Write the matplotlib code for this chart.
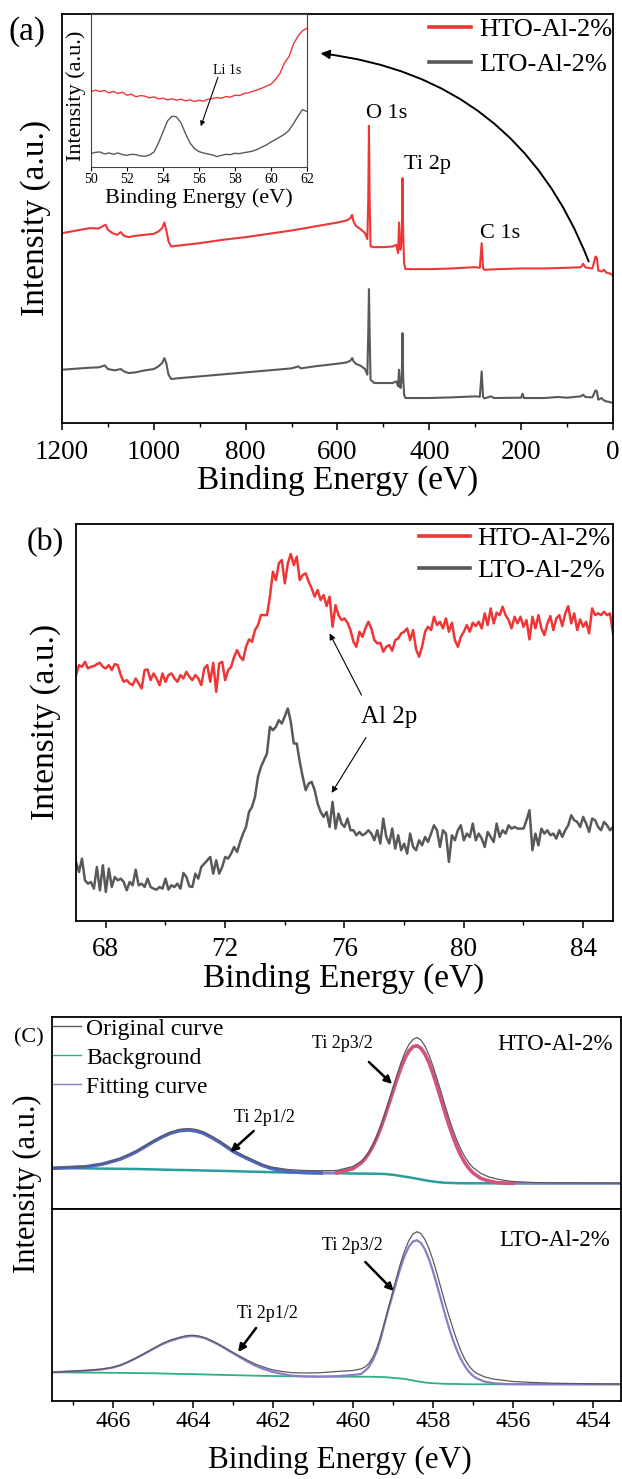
import numpy as np
import matplotlib
matplotlib.use("Agg")
import matplotlib.pyplot as plt
from matplotlib.ticker import MultipleLocator
from matplotlib.lines import Line2D

plt.rcParams['font.family'] = ['Liberation Serif', 'DejaVu Serif']

RED = '#ee3636'
GRAY = '#59595b'

# ---------------- (a) survey spectra ----------------
sv_hto_e = [1200, 1180, 1160, 1140, 1120, 1110, 1105, 1100, 1090, 1080, 1072, 1065, 1055, 1040, 1020,
            1000, 990, 982, 977, 973, 968, 962, 950, 900, 850, 800, 750, 700, 650, 600,
            580, 572, 568, 565, 560, 550, 540, 535, 533, 531.5, 530, 528, 520, 500, 480,
            472, 468, 466, 463, 460, 458.5, 457, 455, 452, 420, 400, 350, 300, 290, 286,
            283, 280, 250, 200, 150, 100, 70, 65, 60, 45, 38, 35, 32, 25, 20, 15, 10, 5, 0]
sv_hto = [570, 575, 580, 585, 584, 592, 595, 580, 570, 565, 573, 562, 558, 562, 565,
          568, 575, 585, 602, 580, 545, 530, 532, 540, 550, 558, 568, 578, 590, 602,
          608, 615, 625, 605, 592, 582, 570, 552, 670, 892, 670, 530, 528, 528, 530,
          535, 510, 602, 520, 550, 735, 570, 480, 462, 462, 462, 464, 468, 466, 540,
          465, 460, 462, 464, 464, 466, 468, 478, 467, 464, 500, 495, 458, 455, 460, 452, 450, 448, 442]

sv_lto_e = [1200, 1180, 1160, 1140, 1120, 1107, 1100, 1085, 1072, 1065, 1055, 1040, 1020, 1000, 990,
            982, 977, 973, 968, 962, 950, 900, 850, 800, 750, 700, 685, 680, 650, 600,
            580, 572, 568, 565, 560, 550, 540, 535, 533, 531.5, 530, 528, 520, 500, 480,
            472, 468, 466, 463, 460, 458.5, 457, 455, 452, 420, 400, 350, 300, 290, 286,
            283, 280, 265, 260, 200, 197, 194, 150, 120, 100, 70, 65, 60, 45, 38,
            35, 32, 25, 20, 15, 10, 5, 0]
sv_lto = [160, 162, 164, 166, 167, 173, 162, 158, 162, 155, 150, 152, 158, 162, 170,
          180, 195, 180, 145, 132, 134, 140, 146, 152, 158, 164, 170, 164, 170, 178,
          182, 187, 195, 185, 178, 172, 162, 145, 270, 402, 270, 130, 120, 120, 120,
          125, 110, 160, 105, 130, 270, 140, 85, 75, 75, 75, 77, 80, 79, 155,
          78, 74, 80, 75, 76, 88, 75, 75, 78, 76, 80, 85, 78, 77, 98,
          95, 70, 75, 68, 65, 64, 62, 60]

# inset: Li 1s region, 50-62 eV in 0.25 eV steps
li_e = np.linspace(50, 62, 49)
li_hto = [225, 230, 226, 229, 222, 226, 220, 224, 215, 218, 210, 214, 212, 207, 210, 204,
          206, 201, 204, 200, 203, 198, 201, 196, 200, 197, 203, 205, 208, 206, 211, 209,
          215, 214, 220, 222, 227, 231, 236, 242, 248, 262, 280, 312, 330, 368, 392, 408, 415]
li_lto = [40, 44, 45, 39, 42, 38, 42, 37, 35, 38, 37, 33, 32, 36, 45, 72,
          105, 138, 152, 150, 132, 100, 72, 55, 46, 42, 39, 36, 31, 35, 38, 37,
          41, 40, 43, 45, 48, 53, 60, 66, 75, 82, 90, 98, 110, 130, 152, 172, 166]

# ---------------- (b) Al 2p, 67-85 eV in 0.1 eV steps ----------------
al_e = np.linspace(67, 85, 181)
al_hto = [737, 767, 762, 777, 757, 762, 764, 770, 774, 762,
          757, 767, 752, 770, 767, 737, 717, 722, 712, 707,
          727, 712, 697, 752, 754, 722, 742, 727, 707, 742,
          717, 737, 742, 727, 717, 737, 727, 747, 732, 722,
          737, 727, 707, 757, 767, 717, 774, 687, 772, 777,
          722, 752, 762, 792, 812, 792, 782, 822, 844, 837,
          872, 887, 917, 917, 917, 972, 1047, 1022, 1072, 1082,
          1012, 1072, 1100, 1067, 1092, 1022, 1037, 1042, 1017, 997,
          972, 992, 962, 977, 944, 972, 882, 947, 917, 902,
          907, 894, 872, 837, 822, 867, 852, 877, 897, 877,
          842, 832, 834, 807, 822, 827, 810, 842, 847, 862,
          867, 877, 842, 872, 814, 792, 822, 867, 882, 872,
          912, 887, 897, 877, 907, 867, 894, 842, 822, 852,
          867, 887, 867, 894, 884, 897, 877, 922, 887, 937,
          892, 924, 917, 942, 917, 902, 877, 912, 892, 912,
          882, 902, 844, 912, 877, 917, 877, 857, 892, 914,
          872, 907, 917, 884, 922, 944, 892, 922, 872, 904,
          882, 897, 862, 937, 917, 922, 917, 927, 917, 922,
          862]
al_lto = [177, 147, 187, 122, 112, 117, 97, 162, 92, 167,
          87, 157, 102, 132, 122, 127, 117, 92, 117, 107,
          154, 107, 112, 102, 127, 102, 97, 94, 102, 97,
          127, 94, 107, 102, 112, 97, 144, 132, 104, 102,
          142, 127, 162, 172, 182, 192, 142, 182, 142, 162,
          192, 187, 202, 222, 207, 237, 262, 282, 327, 342,
          372, 432, 462, 482, 502, 582, 572, 582, 602, 592,
          614, 637, 597, 532, 532, 477, 432, 392, 412, 417,
          392, 352, 327, 312, 327, 282, 357, 277, 322, 292,
          282, 307, 272, 272, 257, 267, 257, 262, 272, 262,
          242, 272, 232, 307, 252, 232, 277, 217, 257, 212,
          232, 202, 262, 222, 212, 242, 227, 252, 237, 262,
          287, 272, 222, 272, 262, 177, 257, 242, 272, 287,
          242, 262, 252, 292, 242, 262, 247, 222, 267, 252,
          237, 292, 252, 272, 262, 287, 277, 282, 277, 277,
          277, 302, 332, 212, 262, 227, 277, 262, 272, 257,
          262, 247, 272, 252, 272, 287, 317, 302, 297, 282,
          312, 292, 267, 307, 302, 282, 272, 297, 287, 272,
          282]

# ---------------- (c) Ti 2p fitting ----------------
hto_e = [467.52, 466.67, 466.25, 465.83, 465.62, 465.41, 465.2, 464.99, 464.78, 464.57,
         464.34, 464.11, 463.92, 463.73, 463.52, 463.31, 463.15, 462.98, 462.72, 462.47,
         462.26, 462.05, 461.63, 461.2, 460.79, 460.4, 460.0, 459.8, 459.7, 459.6,
         459.5, 459.4, 459.3, 459.2, 459.1, 459.0, 458.9, 458.8, 458.7, 458.6,
         458.5, 458.4, 458.3, 458.2, 458.1, 458.0, 457.9, 457.8, 457.7, 457.6,
         457.5, 457.4, 457.3, 457.2, 457.1, 457.0, 456.8, 456.6, 456.4, 456.2,
         456.0, 455.5, 455.0, 454.0, 453.3]
hto_orig = [40, 41.5, 44, 49.5, 53, 57, 62, 67, 71.5, 75.5,
            78.5, 79.5, 78.5, 76, 71.5, 66.5, 62, 57.5, 52, 47.5,
            43.5, 41, 38.5, 37.5, 37.3, 37.5, 41.5, 46.5, 50.5, 56,
            63, 72, 82.5, 94.5, 107, 120, 133, 145, 155.5, 163.5,
            168.5, 170.5, 168, 162, 153, 142, 129.5, 116.5, 103, 90,
            78, 67.5, 58.5, 51, 45, 40.5, 34.5, 31, 29, 27.5,
            26.5, 25.5, 25.2, 25, 24.8]
hto_fit = [39.7, 41.3, 44, 48.7, 52.3, 56.3, 61.3, 66.3, 70.8, 74.7,
           77.3, 78, 77, 74.7, 70.3, 65.3, 61, 56.3, 51, 46.3,
           42.6, 39.7, 36.3, 35.3, 35, 35.2, 39.3, 44.8, 49.1, 54.8,
           61.8, 70.4, 80.5, 91.9, 104, 116.5, 128.6, 140, 149.7, 156.9,
           161.3, 162.3, 159.8, 154, 145.5, 134.5, 122, 108.9, 95.6, 83,
           71.4, 61, 52.3, 45.2, 39.5, 35.1, 29.5, 27, 25.3, 24.9,
           24.7, 24.7, 24.7, 24.7, 24.7]
hto_bg = [40, 39.6, 39.4, 39.2, 39.1, 39, 38.8, 38.6, 38.4, 38.2,
          38, 37.9, 37.7, 37.5, 37.3, 37.1, 37, 36.8, 36.5, 36.3,
          36.1, 35.8, 35.5, 35.2, 35, 34.8, 34.5, 34.4, 34.4, 34.3,
          34.3, 34.2, 34.1, 34, 33.6, 33.2, 32.6, 32, 31.3, 30.7,
          30, 29.3, 28.5, 27.8, 27.1, 26.5, 26, 25.6, 25.2, 25.1,
          25, 24.8, 24.8, 24.7, 24.7, 24.7, 24.7, 24.7, 24.7, 24.7,
          24.7, 24.7, 24.7, 24.7, 24.7]
hto_p12_e = [467.52, 466.67, 466.25, 465.83, 465.62, 465.41, 465.2, 464.99, 464.78, 464.57,
             464.34, 464.11, 463.92, 463.73, 463.52, 463.31, 463.15, 462.98, 462.72, 462.47,
             462.26, 462.05, 461.63, 461.2, 460.79]
hto_p12 = [39.7, 41.3, 44, 48.7, 52.3, 56.3, 61.3, 66.3, 70.8, 74.7,
           77.3, 78, 77, 74.7, 70.3, 65.3, 61, 56.3, 51, 46.3,
           42.6, 39.7, 36.3, 35.3, 35]
hto_p32_e = [460.4, 460.0, 459.8, 459.7, 459.6, 459.5, 459.4, 459.3, 459.2, 459.1,
             459.0, 458.9, 458.8, 458.7, 458.6, 458.5, 458.4, 458.3, 458.2, 458.1,
             458.0, 457.9, 457.8, 457.7, 457.6, 457.5, 457.4, 457.3, 457.2, 457.1,
             457.0, 456.8, 456.6, 456.4, 456.2, 456.0]
hto_p32 = [35.2, 39.3, 44.8, 49.1, 54.8, 61.8, 70.4, 80.5, 91.9, 104,
           116.5, 128.6, 140, 149.7, 156.9, 161.3, 162.3, 159.8, 154, 145.5,
           134.5, 122, 108.9, 95.6, 83, 71.4, 61, 52.3, 45.2, 39.5,
           35.1, 29.5, 27, 25.3, 24.9, 24.7]

lto_e = [467.52, 466.69, 466.3, 466.02, 465.8, 465.6, 465.4, 465.19, 464.98, 464.77,
         464.56, 464.35, 464.18, 464.02, 463.85, 463.69, 463.48, 463.27, 463.06, 462.85,
         462.64, 462.44, 462.23, 462.02, 461.77, 461.52, 461.2, 460.85, 460.4, 460.0,
         459.8, 459.7, 459.6, 459.5, 459.4, 459.3, 459.2, 459.1, 459.0, 458.9,
         458.8, 458.7, 458.6, 458.5, 458.4, 458.3, 458.2, 458.1, 458.0, 457.9,
         457.8, 457.7, 457.6, 457.5, 457.4, 457.3, 457.2, 457.1, 457.0, 456.9,
         456.7, 456.5, 456.2, 456.0, 455.5, 455.0, 454.0, 453.3]
lto_orig = [28.7, 30.5, 31.8, 33.5, 36, 39.5, 43.5, 48, 52.8, 57.3,
            61, 63.5, 65.2, 65.8, 65, 63.2, 59.5, 55, 50, 45.3,
            40.8, 37, 33.8, 31.3, 29.5, 28.3, 28, 28.2, 29.5, 30.5,
            32, 34, 37.5, 44, 53, 66, 80, 95, 110, 125,
            139, 151, 160.5, 167, 169.3, 167.5, 161.5, 152.5, 141, 127.5,
            113, 98.5, 85, 72.5, 60.5, 50, 41.5, 35, 30.5, 27.5,
            24, 22, 20.5, 19.5, 18.5, 17.8, 17.2, 17]
lto_fit = [28.7, 30.3, 31.5, 33.3, 35.8, 39.3, 43.2, 47.7, 52.2, 56.7,
           60.2, 62.7, 64.3, 65, 64.3, 62.7, 58.8, 54.3, 49.3, 44.3,
           39.5, 35.3, 32, 29.3, 27, 25.3, 24.6, 24.4, 24.8, 26,
           27, 30, 34, 41, 50, 63, 78.5, 93.2, 107.2, 121.2,
           134.6, 145.9, 154.4, 159.5, 160.8, 158.1, 151.6, 142, 129.9, 116,
           101.4, 86.9, 73.4, 61, 50.6, 41.8, 34.7, 29.2, 25.2, 22.5,
           19.3, 17.8, 17, 16.8, 16.7, 16.7, 16.7, 16.7]
lto_bg = [28.7, 28.4, 28.3, 28.2, 28.1, 28, 27.9, 27.8, 27.7, 27.5,
          27.3, 27.1, 27, 26.9, 26.7, 26.5, 26.3, 26.1, 25.9, 25.7,
          25.5, 25.3, 25.1, 25, 24.8, 24.7, 24.5, 24.4, 24.3, 24.3,
          24.3, 24.3, 24.3, 24.2, 24.1, 24, 23.8, 23.5, 23.2, 22.8,
          22.5, 22, 21.3, 20.5, 19.8, 19.1, 18.5, 18.1, 17.8, 17.6,
          17.4, 17.2, 17.1, 17, 17, 16.9, 16.8, 16.8, 16.7, 16.7,
          16.7, 16.7, 16.7, 16.7, 16.7, 16.7, 16.7, 16.7]

W, H = 622, 1479


def box(l, t, r, b):
    return [l / W, 1 - b / H, (r - l) / W, (b - t) / H]


def fx(x):
    return x / W


def fy(y):
    return 1 - y / H


def style_axis(ax, size, pad, lw=1.3):
    for s in ax.spines.values():
        s.set_linewidth(lw)
    ax.set_yticks([])
    ax.tick_params(axis='x', which='major', direction='out', length=5, width=1.1,
                   labelsize=size, pad=pad)
    ax.tick_params(axis='x', which='minor', direction='out', length=3, width=1.0)


fig = plt.figure(figsize=(W / 100, H / 100), dpi=100)

# ---- panel (a)
ax_a = fig.add_axes(box(62, 14, 613, 423))
ax_a.plot(sv_hto_e, sv_hto, color=RED, lw=1.5, label='HTO-Al-2%')
ax_a.plot(sv_lto_e, sv_lto, color=GRAY, lw=1.5, label='LTO-Al-2%')
ax_a.set_xlim(1200, 0)
ax_a.set_ylim(0, 1228)
ax_a.xaxis.set_major_locator(MultipleLocator(200))
ax_a.xaxis.set_minor_locator(MultipleLocator(100))
style_axis(ax_a, 19.5, 7.5)
leg = ax_a.legend(loc='upper right', bbox_to_anchor=(fx(612), fy(18)), bbox_transform=fig.transFigure,
                  frameon=False, fontsize=19, borderpad=0, borderaxespad=0,
                  handlelength=1.6, handletextpad=0.3, labelspacing=0.42)
for ln in leg.get_lines():
    ln.set_linewidth(2.6)
ax_a.text(538, 930, 'O 1s', fontsize=16, ha='left', va='center')
ax_a.text(456, 775, 'Ti 2p', fontsize=16, ha='left', va='center')
ax_a.text(289, 570, 'C 1s', fontsize=16, ha='left', va='center')
ax_a.annotate('', xy=(637, 1110), xytext=(53, 485),
              arrowprops=dict(arrowstyle='-|>', connectionstyle='arc3,rad=0.3', lw=1.4,
                              color='black', mutation_scale=13, shrinkA=0, shrinkB=0))

ax_in = fig.add_axes(box(91, 14, 307, 167))
ax_in.plot(li_e, li_hto, color=RED, lw=1.0)
ax_in.plot(li_e, li_lto, color=GRAY, lw=1.0)
ax_in.set_xlim(50, 62)
ax_in.set_ylim(0, 458)
ax_in.set_xticks(np.arange(50, 63, 2))
ax_in.set_yticks([])
for s in ax_in.spines.values():
    s.set_linewidth(0.8)
    s.set_color('#444444')
ax_in.tick_params(axis='x', direction='out', length=3, width=0.8, labelsize=10, pad=1.5)
ax_in.text(56.75, 290, 'Li 1s', fontsize=10, ha='left', va='center')
ax_in.annotate('', xy=(56.1, 122), xytext=(57.05, 268),
               arrowprops=dict(arrowstyle='-|>', lw=0.8, color='black', mutation_scale=7,
                               shrinkA=0, shrinkB=0))
fig.text(fx(199), fy(198), 'Binding Energy (eV)', fontsize=16, ha='center', va='center')
fig.text(fx(76), fy(96), 'Intensity (a.u.)', fontsize=16, ha='center', va='center', rotation=90)

fig.text(fx(27), fy(32), '(a)', fontsize=24, ha='center', va='center')
fig.text(fx(338), fy(480), 'Binding Energy (eV)', fontsize=24, ha='center', va='center')
fig.text(fx(36), fy(218), 'Intensity (a.u.)', fontsize=24, ha='center', va='center', rotation=90)

# ---- panel (b)
ax_b = fig.add_axes(box(76, 524, 613, 921))
ax_b.plot(al_e, al_hto, color=RED, lw=1.8, label='HTO-Al-2%')
ax_b.plot(al_e, al_lto, color=GRAY, lw=1.8, label='LTO-Al-2%')
ax_b.set_xlim(67, 85)
ax_b.set_ylim(0, 1190)
ax_b.xaxis.set_major_locator(MultipleLocator(4))
ax_b.xaxis.set_minor_locator(MultipleLocator(2))
ax_b.set_xticks([68, 72, 76, 80, 84])
style_axis(ax_b, 19.5, 6.5)
leg = ax_b.legend(loc='upper right', bbox_to_anchor=(fx(610), fy(527)), bbox_transform=fig.transFigure,
                  frameon=False, fontsize=19, borderpad=0, borderaxespad=0,
                  handlelength=1.95, handletextpad=0.25, labelspacing=0.32)
for ln in leg.get_lines():
    ln.set_linewidth(2.6)
ax_b.text(76.55, 612, 'Al 2p', fontsize=18, ha='left', va='center')
for start, end in [((76.57, 677), (75.5, 862)), ((76.72, 550), (75.57, 384))]:
    ax_b.annotate('', xy=end, xytext=start,
                  arrowprops=dict(arrowstyle='-|>', lw=0.8, color='black', mutation_scale=9,
                                  shrinkA=0, shrinkB=0))
fig.text(fx(45), fy(543), '(b)', fontsize=23, ha='center', va='center')
fig.text(fx(344), fy(978), 'Binding Energy (eV)', fontsize=24, ha='center', va='center')
fig.text(fx(46), fy(722), 'Intensity (a.u.)', fontsize=24, ha='center', va='center', rotation=90)

# ---- panel (c)
C_ORIG = '#5a5a5a'
C_BG_TOP = '#2a9d9c'
C_BG = '#2fb07f'
C_FIT = '#9079c8'
C_P12 = '#5068c4'
C_P32 = '#d5537a'

ax_c1 = fig.add_axes(box(52, 1017, 621, 1209))
ax_c1.plot(hto_e, hto_bg, color=C_BG_TOP, lw=1.8)
ax_c1.plot(hto_e, hto_fit, color=C_FIT, lw=1.8)
ax_c1.plot(hto_p12_e, hto_p12, color=C_P12, lw=2.6)
ax_c1.plot(hto_p32_e, hto_p32, color=C_P32, lw=2.6)
ax_c1.plot(hto_e, hto_orig, color=C_ORIG, lw=0.9)
ax_c1.set_xlim(467.52, 453.3)
ax_c1.set_ylim(-1, 191)
for s in ax_c1.spines.values():
    s.set_linewidth(1.3)
ax_c1.set_xticks([])
ax_c1.set_yticks([])

ax_c2 = fig.add_axes(box(52, 1209, 621, 1401))
ax_c2.plot(lto_e, lto_bg, color=C_BG, lw=1.3)
ax_c2.plot(lto_e, lto_fit, color=C_FIT, lw=1.6)
ax_c2.plot(lto_e, lto_orig, color=C_ORIG, lw=0.9)
ax_c2.set_xlim(467.52, 453.3)
ax_c2.set_ylim(0, 192)
ax_c2.xaxis.set_major_locator(MultipleLocator(2))
ax_c2.xaxis.set_minor_locator(MultipleLocator(1))
style_axis(ax_c2, 17, 2)

handles = [Line2D([], [], color=C_ORIG, lw=1.0),
           Line2D([], [], color=C_BG, lw=1.0),
           Line2D([], [], color=C_FIT, lw=1.0)]
ax_c1.legend(handles, ['Original curve', 'Background', 'Fitting curve'],
             loc='upper left', bbox_to_anchor=(fx(53), fy(1018)), bbox_transform=fig.transFigure,
             frameon=False, fontsize=17, borderpad=0, borderaxespad=0,
             handlelength=1.2, handletextpad=0.2, labelspacing=0.32)

ax_c1.text(461.02, 165, 'Ti 2p3/2', fontsize=13, ha='left', va='center')
ax_c1.text(462.98, 91, 'Ti 2p1/2', fontsize=13, ha='left', va='center')
ax_c1.text(456.4, 164, 'HTO-Al-2%', fontsize=16.5, ha='left', va='center')
ax_c2.text(460.77, 156, 'Ti 2p3/2', fontsize=13, ha='left', va='center')
ax_c2.text(462.9, 88, 'Ti 2p1/2', fontsize=13, ha='left', va='center')
ax_c2.text(456.35, 161, 'LTO-Al-2%', fontsize=16.5, ha='left', va='center')

arrow_kw = dict(arrowstyle='-|>', lw=1.8, color='black', mutation_scale=11, shrinkA=0, shrinkB=0)
ax_c1.annotate('', xy=(459.02, 124), xytext=(459.6, 146), arrowprops=arrow_kw)
ax_c1.annotate('', xy=(463.06, 56), xytext=(462.48, 77), arrowprops=arrow_kw)
ax_c2.annotate('', xy=(458.98, 110), xytext=(459.69, 139), arrowprops=arrow_kw)
ax_c2.annotate('', xy=(462.87, 49), xytext=(462.42, 73), arrowprops=arrow_kw)

fig.text(fx(29), fy(1038), '(C)', fontsize=16, ha='center', va='center')
fig.text(fx(340), fy(1460), 'Binding Energy (eV)', fontsize=22.5, ha='center', va='center')
fig.text(fx(27), fy(1184), 'Intensity (a.u.)', fontsize=22, ha='center', va='center', rotation=90)

fig.savefig('out.png', dpi=100)
